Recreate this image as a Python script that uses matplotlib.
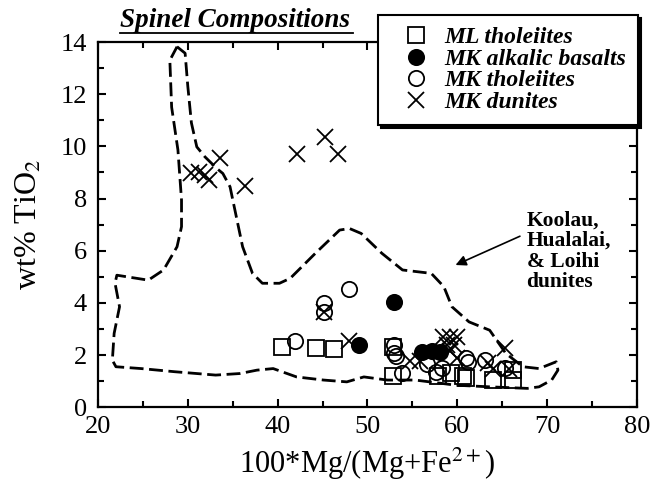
import matplotlib
matplotlib.use("Agg")
import matplotlib.pyplot as plt
from matplotlib.ticker import MultipleLocator

plt.rcParams["font.family"] = ["Liberation Serif", "DejaVu Serif"]
plt.rcParams["mathtext.fontset"] = "stix"

# spinel analyses, Mg# vs wt% TiO2
ml_thol_x = [40.5, 44.3, 46.3, 52.8, 52.8, 57.8, 59.3, 60.6, 61.0, 64.0, 66.2, 66.2]
ml_thol_y = [2.31, 2.25, 2.22, 2.31, 1.18, 1.18, 1.30, 1.18, 1.10, 1.04, 1.04, 1.42]

mk_alk_x = [53.0, 49.0, 56.1, 57.2, 58.1]
mk_alk_y = [4.04, 2.38, 2.10, 2.17, 2.10]

mk_thol_x = [47.9, 45.2, 45.2, 41.9, 53.0, 53.0, 53.2, 53.8, 56.6, 57.6, 58.3, 61.0,
             61.2, 63.1, 65.3]
mk_thol_y = [4.53, 3.98, 3.66, 2.53, 2.40, 2.07, 1.97, 1.30, 1.65, 1.35, 1.50, 1.88,
             1.74, 1.80, 1.50]

mk_dun_x = [30.4, 31.3, 31.9, 32.4, 33.6, 36.4, 42.1, 45.3, 46.7, 45.2, 47.9,
            54.7, 55.9, 58.4, 59.2, 60.0, 58.9, 59.6, 59.2, 60.0, 63.4, 64.0, 65.3, 65.7]
mk_dun_y = [8.99, 9.03, 8.90, 8.70, 9.54, 8.49, 9.70, 10.37, 9.70, 3.66, 2.53,
            1.77, 1.77, 2.70, 2.70, 2.70, 2.40, 2.40, 2.15, 1.90, 1.70, 1.45, 2.25, 1.45]

# field of Koolau, Hualalai and Loihi dunite spinels
field_x = [28.8, 29.7, 30.0, 30.4, 31.0, 31.9, 33.2, 33.9, 34.7, 35.4, 36.1, 37.2,
           38.3, 40.2, 41.4, 44.2, 46.9, 48.0, 49.3, 51.6, 53.9, 57.1, 58.5, 59.4,
           61.3, 63.6, 65.4, 67.3, 69.1, 71.0, 71.2, 70.5, 69.1, 67.8, 63.6, 59.9,
           55.3, 52.2, 49.6, 47.7, 45.1, 42.1, 39.5, 37.7, 35.8, 33.1, 28.5, 24.8,
           22.0, 21.6, 21.8, 22.4, 21.9, 22.1, 23.2, 25.6, 27.3, 28.8, 29.3, 29.3,
           28.9, 28.2, 28.0, 28.8]
field_y = [13.82, 13.57, 12.3, 10.9, 9.98, 9.6, 9.16, 8.96, 8.45, 7.3, 6.15, 5.13,
           4.75, 4.75, 4.94, 5.9, 6.79, 6.85, 6.66, 5.9, 5.26, 5.13, 4.62, 3.85,
           3.27, 2.95, 2.06, 1.55, 1.48, 1.74, 1.42, 1.04, 0.78, 0.72, 0.78, 0.84,
           1.04, 1.04, 1.16, 0.97, 1.04, 1.16, 1.48, 1.42, 1.29, 1.23, 1.36, 1.48,
           1.55, 1.8, 2.83, 3.85, 4.75, 5.06, 5.0, 4.87, 5.26, 6.15, 6.92, 7.94,
           9.86, 11.5, 13.3, 13.82]

fig = plt.figure(figsize=(6.51, 4.83), dpi=100)
ax = fig.add_axes([0.1505, 0.157, 0.828, 0.756])

ax.plot(field_x, field_y, color="black", lw=2.0, linestyle=(0, (5, 2)), zorder=1)

ms = 11
mew = 1.3
ax.plot(ml_thol_x, ml_thol_y, "s", ms=ms, mfc="none", mec="black", mew=mew,
        label="ML tholeiites", zorder=2)
ax.plot(mk_alk_x, mk_alk_y, "o", ms=ms, mfc="black", mec="black", mew=mew,
        label="MK alkalic basalts", zorder=3)
ax.plot(mk_thol_x, mk_thol_y, "o", ms=ms, mfc="none", mec="black", mew=mew,
        label="MK tholeiites", zorder=3)
ax.plot(mk_dun_x, mk_dun_y, "x", ms=ms, mec="black", mew=mew,
        label="MK dunites", zorder=4)

ax.set_xlim(20, 80)
ax.set_ylim(0, 14)
ax.xaxis.set_major_locator(MultipleLocator(10))
ax.xaxis.set_minor_locator(MultipleLocator(5))
ax.yaxis.set_major_locator(MultipleLocator(2))
ax.yaxis.set_minor_locator(MultipleLocator(1))
ax.tick_params(which="both", direction="in", top=True, right=True, width=1.5,
               labelsize=19)
ax.tick_params(which="major", length=6)
ax.tick_params(which="minor", length=4)
ax.tick_params(axis="x", which="major", pad=6)
ax.tick_params(axis="y", which="major", pad=8)
for s in ax.spines.values():
    s.set_linewidth(1.6)

ax.set_xlabel(r"100*Mg/(Mg+Fe$^{\mathrm{2+}}$)", fontsize=22, labelpad=6)
ax.set_ylabel(r"wt% TiO$_{\mathrm{2}}$", fontsize=23, labelpad=12)

fig.text(0.184, 0.958, "Spinel Compositions", fontsize=19.5, fontweight="bold",
         fontstyle="italic", va="center", ha="left")
fig.add_artist(plt.Line2D([0.184, 0.542], [0.932, 0.932], color="black", lw=1.3))

ax.annotate("Koolau,\nHualalai,\n& Loihi\ndunites", xy=(59.8, 5.45),
            xytext=(67.7, 7.55), fontsize=15.5, fontweight="bold", va="top",
            ha="left", linespacing=1.05,
            arrowprops=dict(arrowstyle="-|>", color="black", lw=1.2,
                            shrinkA=3, shrinkB=0, relpos=(0, 0.72)))

leg = ax.legend(loc="upper left", bbox_to_anchor=(378 / 651, 1 - 15 / 483),
                bbox_transform=fig.transFigure, borderaxespad=0, fancybox=False,
                edgecolor="black", framealpha=1,
                shadow={"color": "black", "alpha": 1},
                prop={"weight": "bold", "style": "italic", "size": 17},
                handletextpad=0.1, labelspacing=0.0, borderpad=0.5,
                handlelength=2.2)
leg.get_frame().set_linewidth(1.5)

fig.savefig("out.png", dpi=100)
